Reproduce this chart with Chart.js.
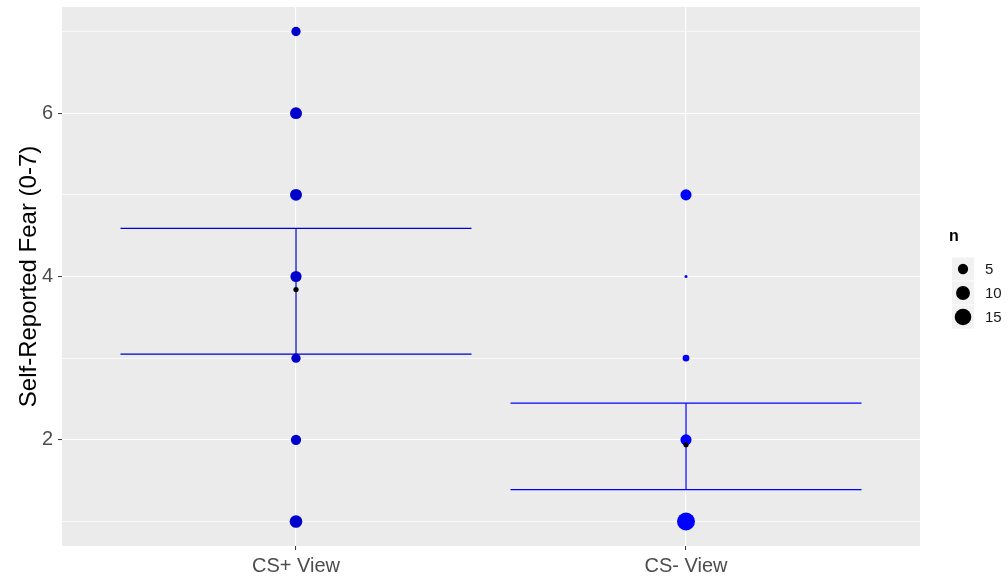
<!DOCTYPE html>
<html>
<head>
<meta charset="utf-8">
<title>Self-Reported Fear</title>
<script src="https://cdn.jsdelivr.net/npm/chart.js@4.4.1/dist/chart.umd.min.js"></script>
<style>
  html, body { margin: 0; padding: 0; background: #ffffff; }
  #wrap { width: 1008px; height: 581px; }
</style>
</head>
<body>
<div id="wrap"><canvas id="c" width="1008" height="581"></canvas></div>
<script>
// Conditions on the x axis
const categories = ['CS+ View', 'CS- View'];
// Fear ratings observed (y values)
const fearLevels = [1, 2, 3, 4, 5, 6, 7];
// Number of participants giving each rating, per condition
const countsCSplus  = [8, 5, 4, 6, 7, 7, 4];
const countsCSminus = [18, 6, 2, 1, 6, 0, 0];
// Mean and interval per condition
const means  = [3.84, 1.94];
const ciLow  = [3.05, 1.39];
const ciHigh = [4.59, 2.45];
// Axis and legend ticks
const yTickValues = [1, 2, 3, 4, 5, 6, 7];
const yLabelled = [2, 4, 6];
const legendBreaks = [5, 10, 15];

const pointColors = ['#0000CD', '#0000FF'];
const nMin = 1, nMax = 18;
const halfWidth = 0.45;
const FONT = '"Liberation Sans", Arial, sans-serif';

// size scale: area proportional to count
function diameter(n) {
  return 3 + 15 * Math.sqrt((n - nMin) / (nMax - nMin));
}

function pointsFor(counts, xIndex) {
  const out = [];
  fearLevels.forEach((lvl, i) => {
    if (counts[i] > 0) out.push({ x: xIndex + 1, y: lvl, n: counts[i] });
  });
  return out;
}

// caps and stem of an interval, each as its own segment
function errorBarSegments(i) {
  const x = i + 1;
  return [
    [{ x: x - halfWidth, y: ciHigh[i] }, { x: x + halfWidth, y: ciHigh[i] }],
    [{ x: x, y: ciHigh[i] }, { x: x, y: ciLow[i] }],
    [{ x: x - halfWidth, y: ciLow[i] }, { x: x + halfWidth, y: ciLow[i] }]
  ];
}

const allCounts = [countsCSplus, countsCSminus];

const datasets = [];
categories.forEach((c, i) => {
  errorBarSegments(i).forEach((seg, k) => {
    datasets.push({
      type: 'line',
      label: c + ' interval ' + k,
      data: seg,
      borderColor: pointColors[i],
      backgroundColor: pointColors[i],
      borderWidth: 1.2,
      pointRadius: 0,
      fill: false,
      tension: 0,
      order: 3
    });
  });
  datasets.push({
    type: 'scatter',
    label: c,
    data: pointsFor(allCounts[i], i),
    backgroundColor: pointColors[i],
    borderColor: pointColors[i],
    borderWidth: 0,
    pointRadius: ctx => diameter(ctx.raw.n) / 2,
    pointHoverRadius: ctx => diameter(ctx.raw.n) / 2,
    order: 2
  });
});
datasets.push({
  type: 'scatter',
  label: 'mean',
  data: means.map((m, i) => ({ x: i + 1, y: m })),
  backgroundColor: '#000000',
  borderColor: '#000000',
  borderWidth: 0,
  pointRadius: 2.6,
  order: 1
});

const panelPlugin = {
  id: 'panel',
  beforeDraw(chart) {
    const { ctx, chartArea: a } = chart;
    ctx.save();
    ctx.fillStyle = '#EBEBEB';
    ctx.fillRect(a.left, a.top, a.right - a.left, a.bottom - a.top);
    ctx.restore();
  },
  afterDraw(chart) {
    const ctx = chart.ctx;
    ctx.save();
    // legend for point size
    ctx.fillStyle = '#000000';
    ctx.font = 'bold 16px ' + FONT;
    ctx.textBaseline = 'middle';
    ctx.textAlign = 'left';
    ctx.fillText('n', 949, 237);
    const keyX = 952, keyW = 22, keyH = 24, top0 = 257;
    legendBreaks.forEach((b, k) => {
      const y0 = top0 + k * keyH;
      ctx.fillStyle = '#F2F2F2';
      ctx.fillRect(keyX, y0 + 0.5, keyW, keyH - 1);
      ctx.fillStyle = '#000000';
      ctx.beginPath();
      ctx.arc(keyX + keyW / 2, y0 + keyH / 2, diameter(b) / 2, 0, Math.PI * 2);
      ctx.fill();
      ctx.fillStyle = '#1a1a1a';
      ctx.font = '15px ' + FONT;
      ctx.fillText(String(b), 985, y0 + keyH / 2 + 1);
    });
    ctx.restore();
  }
};

new Chart(document.getElementById('c'), {
  type: 'scatter',
  data: { datasets },
  plugins: [panelPlugin],
  options: {
    responsive: false,
    animation: false,
    layout: { autoPadding: false, padding: { top: 7, right: 88, left: 0, bottom: 0 } },
    plugins: { legend: { display: false }, tooltip: { enabled: false } },
    scales: {
      x: {
        type: 'linear',
        min: 0.4, max: 2.6,
        afterBuildTicks: s => { s.ticks = categories.map((c, i) => ({ value: i + 1 })); },
        afterFit: s => { s.height = 35; },
        border: { display: false },
        grid: {
          color: '#FFFFFF', lineWidth: 1.1,
          drawTicks: true, tickLength: 4, tickColor: '#333333', tickWidth: 1
        },
        ticks: {
          callback: v => categories[Math.round(v) - 1],
          color: '#4D4D4D',
          font: { family: FONT, size: 20 },
          padding: 4,
          maxRotation: 0
        }
      },
      y: {
        type: 'linear',
        min: 0.7, max: 7.3,
        afterBuildTicks: s => { s.ticks = yTickValues.map(v => ({ value: v })); },
        afterFit: s => { s.width = 62; s.paddingTop = 0; s.paddingBottom = 0; },
        border: { display: false },
        grid: {
          color: '#FFFFFF',
          lineWidth: ctx => (yLabelled.includes(ctx.tick && ctx.tick.value) ? 1.1 : 0.7),
          drawTicks: true, tickLength: 4, tickWidth: 1,
          tickColor: ctx => (yLabelled.includes(ctx.tick && ctx.tick.value) ? '#333333' : 'rgba(0,0,0,0)')
        },
        ticks: {
          callback: v => (yLabelled.includes(v) ? String(v) : ''),
          color: '#4D4D4D',
          font: ctx => ({ family: FONT, size: (ctx.tick && yLabelled.includes(ctx.tick.value)) ? 20 : 1 }),
          padding: 5,
          autoSkip: false
        },
        title: {
          display: true,
          text: 'Self-Reported Fear (0-7)',
          color: '#000000',
          font: { family: FONT, size: 24 },
          padding: { top: 15, bottom: 0 }
        }
      }
    }
  }
});
</script>
</body>
</html>
